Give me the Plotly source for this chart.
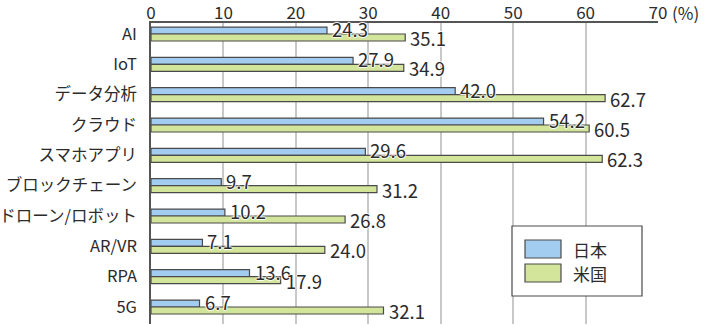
import plotly.graph_objects as go

categories = ["AI", "IoT", "データ分析", "クラウド", "スマホアプリ", "ブロックチェーン",
              "ドローン/ロボット", "AR/VR", "RPA", "5G"]
japan = [24.3, 27.9, 42.0, 54.2, 29.6, 9.7, 10.2, 7.1, 13.6, 6.7]
usa = [35.1, 34.9, 62.7, 60.5, 62.3, 31.2, 26.8, 24.0, 17.9, 32.1]
series_names = ["日本", "米国"]
x_ticks = [0, 10, 20, 30, 40, 50, 60, 70]

FONT = "Noto Sans CJK JP"
TXT = "#2b2b2b"
colors = ["#a3cdf0", "#d2e59a"]
HALO = "white 1px 0px 1px, white -1px 0px 1px, white 0px 1px 1px, white 0px -1px 1px"

fig = go.Figure()
for name, vals, col in zip(series_names, [japan, usa], colors):
    fig.add_trace(go.Bar(
        y=categories, x=vals, name=name, orientation="h",
        marker=dict(color=col, line=dict(color="#4a4a4a", width=1.2)),
        showlegend=False,
    ))

annotations = []
for vals, shift in zip([japan, usa], [5, -4]):
    for c, v in zip(categories, vals):
        annotations.append(dict(
            x=v, y=c, xref="x", yref="y", text=f"{v:.1f}", showarrow=False,
            xanchor="left", yanchor="middle", xshift=3, yshift=shift,
            font=dict(family=FONT, size=18.5, color=TXT, shadow=HALO),
        ))

# (%) unit label
annotations.append(dict(
    x=1, y=1, xref="paper", yref="paper", text="(%)", showarrow=False,
    xanchor="left", yanchor="bottom", xshift=12, yshift=-4,
    font=dict(family=FONT, size=17, color=TXT),
))

# custom legend
W, H = 507.0, 301.0
def px_x(p):
    return (p - 151) / W
def px_y(p):
    return (324 - p) / H

shapes = [dict(type="rect", xref="paper", yref="paper",
               x0=px_x(512), x1=px_x(642), y0=px_y(296), y1=px_y(226),
               fillcolor="white", line=dict(color="#4a4a4a", width=1.2), layer="above")]
for i, (name, col) in enumerate(zip(series_names, colors)):
    top = 240 + i * 24
    shapes.append(dict(type="rect", xref="paper", yref="paper",
                       x0=px_x(525), x1=px_x(561), y0=px_y(top + 18), y1=px_y(top),
                       fillcolor=col, line=dict(color="#4a4a4a", width=1.2), layer="above"))
    annotations.append(dict(
        x=px_x(571), y=px_y(top + 9), xref="paper", yref="paper", text=name,
        showarrow=False, xanchor="left", yanchor="middle",
        font=dict(family=FONT, size=17, color=TXT),
    ))

fig.update_layout(
    width=705, height=326,
    margin=dict(l=151, r=47, t=23, b=2),
    paper_bgcolor="white", plot_bgcolor="white",
    barmode="group", bargap=0.54, bargroupgap=0,
    font=dict(family=FONT, size=17, color=TXT),
    annotations=annotations, shapes=shapes,
    xaxis=dict(side="top", range=[0, 70], tickvals=x_ticks,
               ticktext=[str(t) for t in x_ticks], automargin=False,
               showgrid=True, gridcolor="#c8c8c8", gridwidth=1.5,
               showline=True, linecolor="#555555", linewidth=1.5,
               zeroline=False, ticks="", ticklabelstandoff=-5,
               tickfont=dict(family=FONT, size=17, color=TXT)),
    yaxis=dict(type="category", categoryorder="array", categoryarray=categories,
               range=[9.56, -0.363], autorange=False, automargin=False,
               showline=True, linecolor="#555555", linewidth=1.5,
               showgrid=False, ticks="", ticklabelstandoff=9,
               tickfont=dict(family=FONT, size=16.5, color=TXT)),
)

fig.write_html("out.html")
